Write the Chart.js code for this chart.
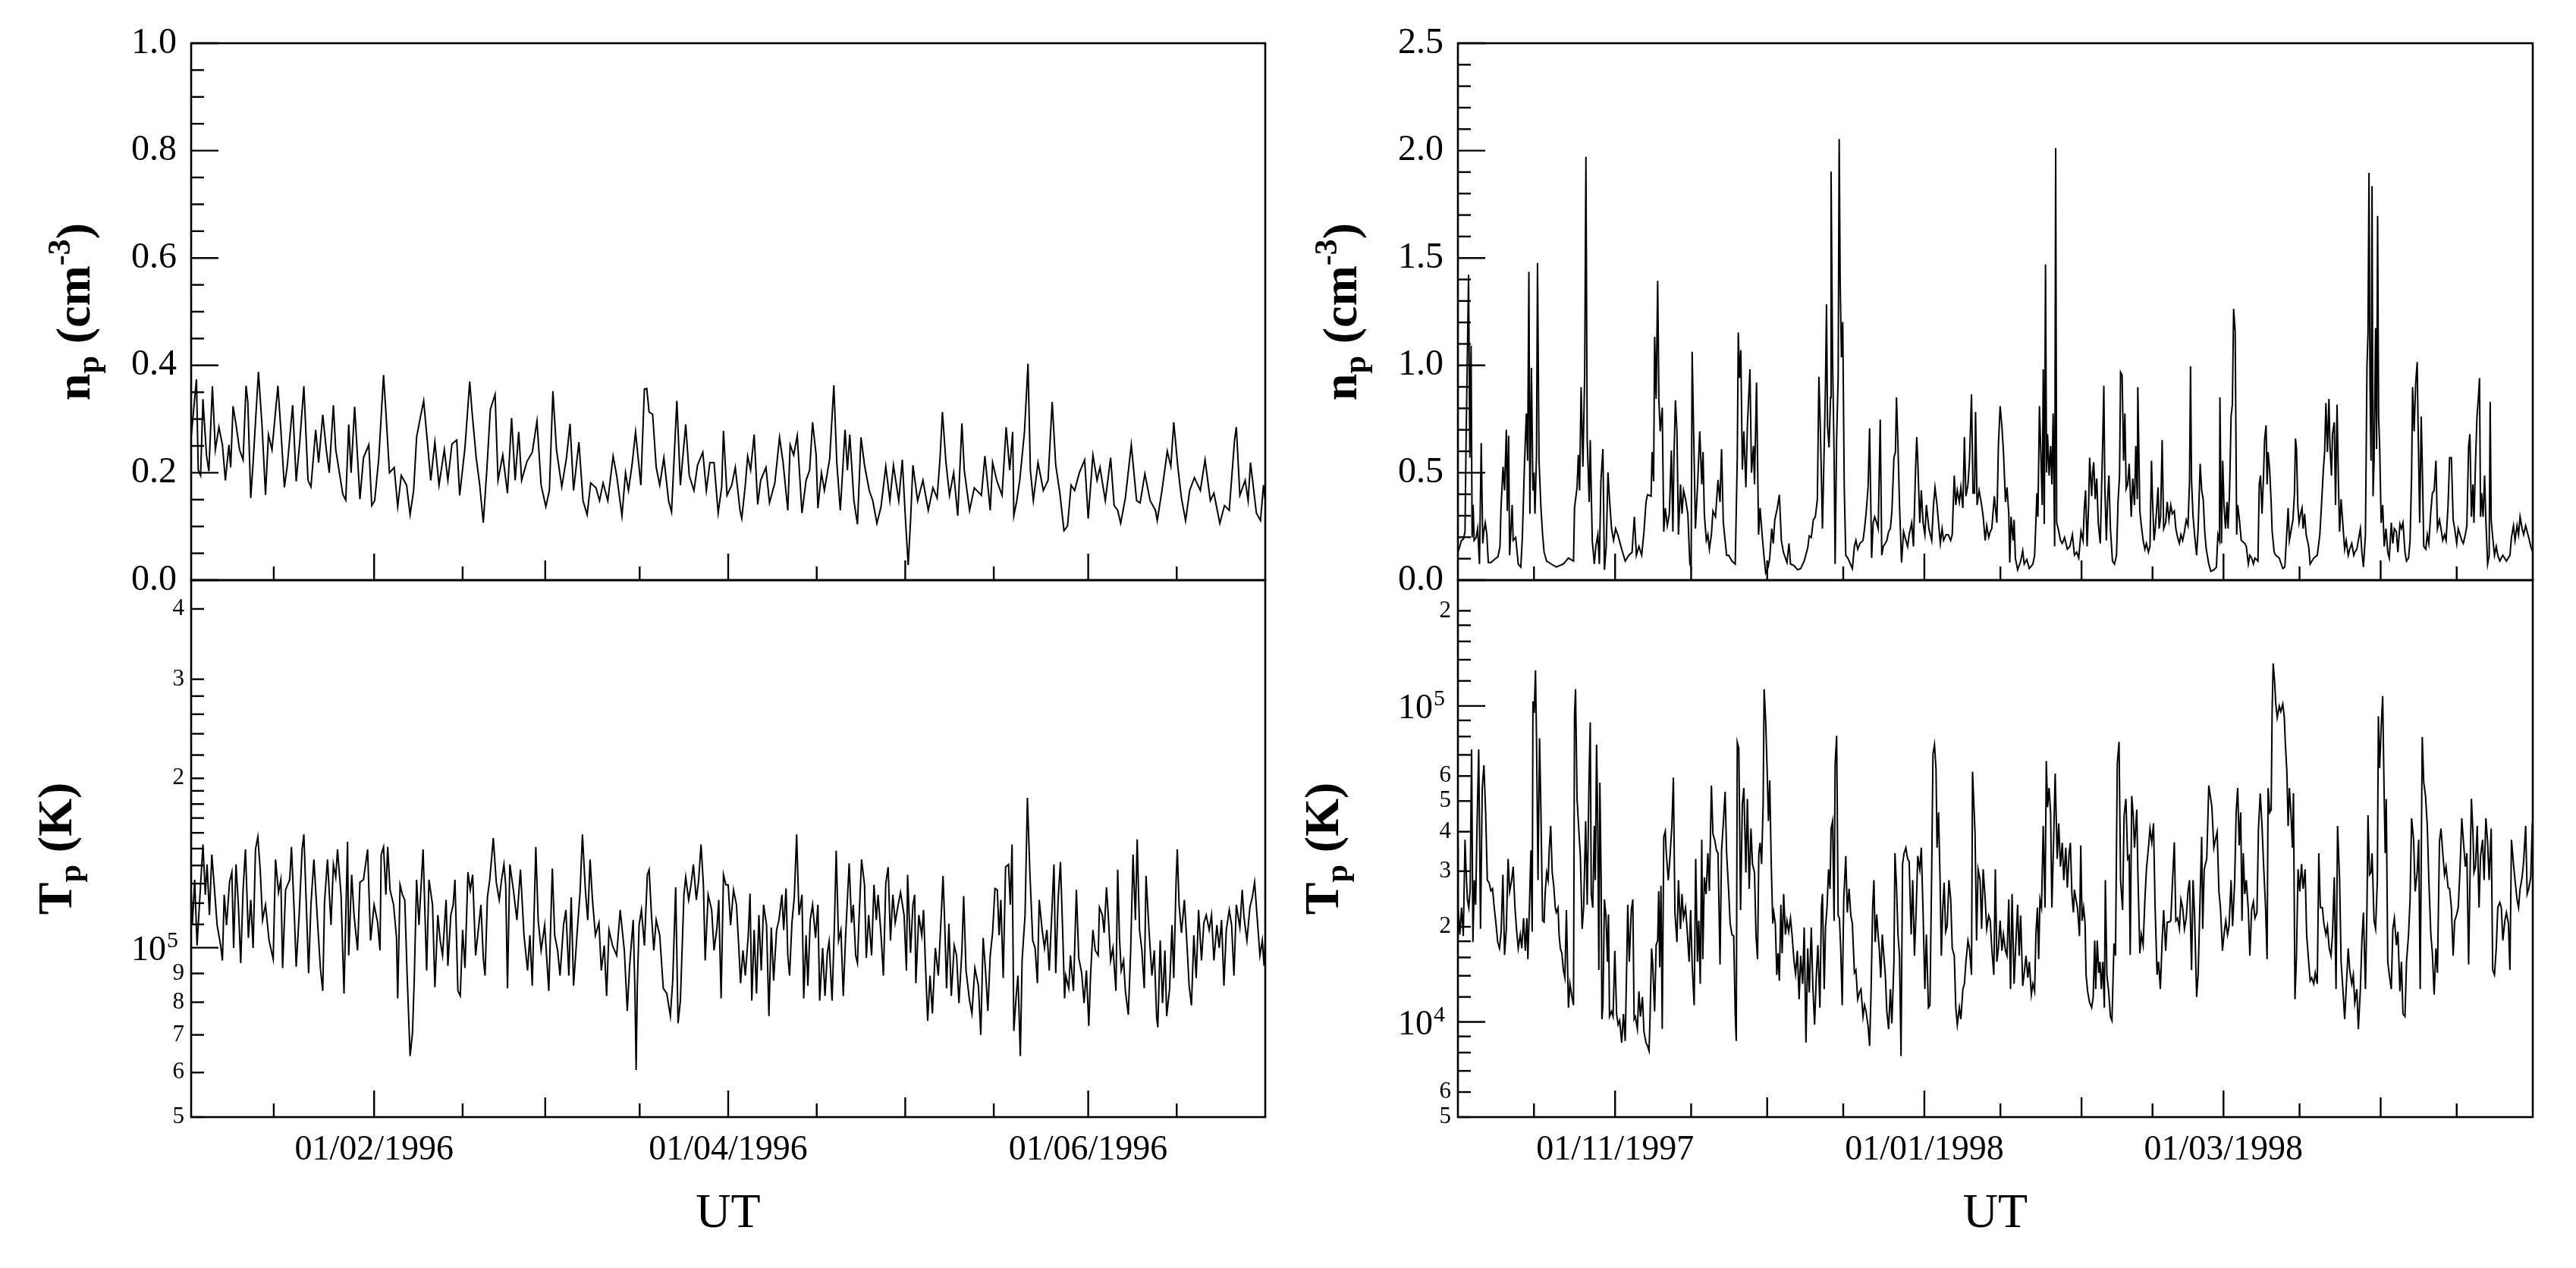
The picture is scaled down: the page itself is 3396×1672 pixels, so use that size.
<!DOCTYPE html>
<html>
<head>
<meta charset="utf-8">
<title>Solar wind n_p and T_p</title>
<script src="https://cdn.jsdelivr.net/npm/chart.js@4.4.1/dist/chart.umd.min.js"></script>
<style>
  html, body { margin: 0; padding: 0; background: #fff; }
  #wrap { position: relative; width: 3396px; height: 1672px; }
  #wrap canvas { position: absolute; left: 0; top: 0; }
</style>
</head>
<body>
<div id="wrap">
  <canvas id="npLeft" width="3396" height="1672"></canvas>
  <canvas id="tpLeft" width="3396" height="1672"></canvas>
  <canvas id="npRight" width="3396" height="1672"></canvas>
  <canvas id="tpRight" width="3396" height="1672"></canvas>
</div>
<script>
// ---- data: [days since start of window, value] ----
// window 1: 01/01/1996 .. 01/07/1996, window 2: 01/10/1997 .. 01/05/1998

const np1996 = [[0,.266],[.9,.374],[1.2,.205],[1.6,.195],[2.0,.337],[2.6,.233],[3.0,.203],[3.6,.361],[4.1,.243],[4.7,.285],[5.3,.252],[5.8,.186],[6.4,.252],[6.7,.210],[7.1,.324],[7.6,.290],[8.2,.243],[8.8,.224],[9.3,.362],[9.6,.332],[10.1,.153],[10.5,.219],[11.4,.388],[12.0,.290],[12.6,.159],[13.1,.271],[13.7,.243],[14.7,.362],[15.2,.280],[15.8,.173],[16.3,.214],[17.2,.326],[17.8,.184],[18.4,.257],[19.1,.361],[19.8,.186],[20.3,.174],[21.1,.280],[21.6,.219],[22.3,.308],[22.9,.243],[23.4,.200],[24.1,.326],[24.5,.243],[25.7,.160],[26.2,.149],[26.7,.290],[27.1,.200],[27.7,.323],[28.6,.151],[29.2,.228],[30.1,.252],[30.6,.139],[31.1,.148],[31.8,.228],[32.6,.382],[33.0,.313],[33.6,.200],[34.4,.210],[35.0,.137],[35.6,.195],[36.5,.177],[37.1,.122],[37.7,.167],[38.2,.266],[38.8,.301],[39.4,.334],[40.0,.261],[40.6,.186],[41.3,.257],[42.0,.177],[42.9,.243],[43.5,.186],[44.2,.254],[45.0,.261],[45.5,.158],[46.4,.247],[47.2,.370],[47.6,.313],[48.3,.228],[48.9,.177],[49.5,.107],[50.1,.205],[50.7,.318],[51.5,.346],[52.0,.186],[52.8,.233],[53.6,.162],[54.3,.302],[54.9,.186],[55.5,.276],[56.0,.186],[56.9,.221],[57.8,.238],[58.6,.296],[59.3,.177],[60.1,.137],[60.7,.167],[61.3,.352],[61.9,.243],[62.8,.174],[63.6,.228],[64.2,.291],[64.8,.167],[65.7,.257],[66.4,.148],[67.1,.122],[67.7,.181],[68.6,.172],[69.2,.148],[69.8,.181],[70.6,.148],[71.5,.231],[72.1,.195],[73.0,.120],[73.6,.200],[74.1,.167],[74.7,.214],[75.3,.276],[76.2,.177],[76.8,.356],[77.2,.357],[77.6,.313],[78.2,.309],[78.8,.210],[79.4,.177],[80.1,.228],[80.9,.148],[81.4,.127],[82.3,.334],[82.9,.177],[83.8,.290],[84.4,.195],[85.2,.167],[85.8,.214],[86.7,.238],[87.3,.167],[87.9,.219],[88.6,.219],[89.3,.125],[89.9,.174],[90.2,.278],[90.8,.158],
  [91.6,.177],[92.2,.210],[93.0,.130],[93.3,.115],[93.9,.177],[94.3,.231],[94.8,.205],[95.4,.271],[96.0,.141],[96.5,.186],[97.4,.210],[98.0,.144],[98.9,.181],[99.7,.266],[100.3,.219],[101.1,.130],[101.5,.252],[102.1,.233],[102.7,.269],[103.5,.125],[104.2,.186],[104.8,.205],[105.3,.294],[105.9,.233],[106.2,.134],[106.8,.200],[107.3,.167],[108.2,.226],[108.9,.363],[109.4,.219],[110.0,.130],[110.8,.280],[111.2,.205],[111.6,.271],[112.3,.148],[112.9,.104],[113.5,.266],[114.1,.214],[114.9,.167],[115.5,.148],[116.2,.106],[116.9,.137],[117.7,.212],[118.4,.148],[119.0,.214],[119.9,.148],[120.5,.224],[121.1,.101],[121.5,.028],[121.9,.111],[122.3,.214],[123.1,.148],[124.0,.186],[124.9,.130],[125.7,.172],[126.4,.153],[126.9,.228],[127.3,.313],[127.9,.219],[128.5,.158],[129.2,.200],[129.9,.120],[130.6,.292],[131.0,.205],[131.9,.130],[132.7,.172],[133.9,.158],[134.5,.231],[135.4,.130],[135.8,.219],[136.5,.186],[137.4,.158],[138.1,.285],[138.7,.205],[139.2,.276],[139.4,.120],[139.9,.148],[140.4,.186],[141.2,.276],[141.8,.403],[142.2,.205],[142.7,.148],[143.5,.219],[144.4,.167],[145.2,.186],[145.9,.332],[146.5,.214],[147.2,.162],[147.9,.092],[148.5,.101],[149.1,.177],[149.7,.167],[150.5,.200],[151.4,.224],[152.0,.115],[152.8,.233],[153.5,.186],[154.0,.210],[154.9,.148],[155.8,.228],[156.4,.139],[157.0,.130],[157.5,.106],[158.3,.153],[159.3,.252],[160.2,.148],[160.8,.144],[161.6,.198],[162.5,.148],[163.4,.130],[163.7,.111],[164.5,.167],[165.4,.240],[166.0,.212],[166.5,.294],[167.2,.210],[167.8,.153],[168.5,.111],[169.2,.167],[170.0,.191],[171.0,.167],[171.8,.224],[172.7,.148],[173.3,.162],[174.3,.106],[175.1,.139],[175.9,.130],[176.8,.261],[177.1,.285],[177.7,.158],[178.6,.186],[179.1,.148],[179.5,.219],[180.5,.125],[181.2,.111],[181.7,.177],[182,.148]];

const tp1996 = [[0,124.2e3],[.2,109.7e3],[.6,132.1e3],[1.0,100.9e3],[1.5,124.2e3],[2.0,152.6e3],[2.4,124.2e3],[2.7,140.6e3],[3.1,114.3e3],[3.5,146.4e3],[3.9,129.3e3],[4.4,109.7e3],[5.0,100.9e3],[5.3,94.9e3],[5.6,124.2e3],[6.0,109.7e3],[6.5,130.7e3],[6.9,136.2e3],[7.2,99.9e3],[7.6,140.6e3],[8.0,119.2e3],[8.4,93.9e3],[8.8,126.7e3],[9.2,149.5e3],[9.7,104.1e3],[10.1,121.6e3],[10.5,99.9e3],[10.9,149.5e3],[11.3,157.4e3],[11.7,137.6e3],[12.1,112.0e3],[12.6,119.2e3],[13.2,103.0e3],[13.9,95.4e3],[14.3,143.5e3],[14.8,125.4e3],[15.2,132.1e3],[15.5,92.0e3],[16.0,126.7e3],[16.7,132.1e3],[17.0,151.0e3],[17.5,113.2e3],[17.8,92.5e3],[18.3,114.3e3],[18.8,149.5e3],[19.1,159.0e3],[19.6,112.0e3],[19.9,90.1e3],[20.3,119.2e3],[20.8,143.5e3],[21.5,107.5e3],[21.9,92.0e3],[22.3,83.8e3],[22.6,120.4e3],[23.1,143.5e3],[23.7,109.7e3],[24.1,140.6e3],[24.5,133.5e3],[24.8,149.5e3],[25.4,124.2e3],[25.9,82.9e3],[26.5,154.2e3],[26.7,96.9e3],[27.2,134.8e3],[27.6,114.3e3],[28.2,98.9e3],[28.6,130.7e3],[29.2,132.1e3],[29.9,149.5e3],[30.4,103.0e3],[31.0,119.2e3],[31.6,110.8e3],[32.0,98.9e3],[32.2,146.4e3],[32.6,151.0e3],[33.0,124.2e3],[33.3,151.0e3],[33.7,126.7e3],[34.3,119.2e3],[34.8,104.1e3],[35.0,81.3e3],[35.4,129.3e3],[35.8,124.2e3],[36.2,121.6e3],[36.6,89.2e3],[37.1,64.2e3],[37.5,70.4e3],[37.8,87.4e3],[38.2,132.1e3],[38.6,109.7e3],[39.3,149.5e3],[39.9,91.1e3],[40.3,132.1e3],[40.9,119.2e3],[41.3,85.1e3],[41.8,114.3e3],[42.2,103.0e3],[42.6,96.9e3],[43.2,121.6e3],[43.5,92.9e3],[44.0,114.3e3],[44.4,119.2e3],[44.7,132.1e3],[45.2,83.8e3],[45.6,82.1e3],[46.0,107.5e3],[46.4,92.0e3],[46.9,136.2e3],[47.3,126.7e3],[47.7,134.8e3],[48.2,96.9e3],[48.7,108.6e3],[49.1,119.2e3],[49.5,95.9e3],[49.8,89.2e3],[50.2,122.9e3],[50.6,132.1e3],[51.2,156.6e3],[51.7,130.7e3],[52.2,121.6e3],[52.6,132.1e3],[53.0,140.6e3],[53.3,129.3e3],[53.6,84.7e3],[54.0,140.6e3],[54.6,126.7e3],[55.2,112.0e3],[55.8,137.6e3],[56.4,105.2e3],[57.0,91.1e3],[57.4,105.2e3],[57.8,85.6e3],[58.4,151.0e3],[58.8,112.0e3],[59.3,98.9e3],[59.9,109.7e3],[60.6,83.8e3],[61.2,138.3e3],[61.6,105.2e3],[62.1,98.9e3],[62.5,89.2e3],[63.1,109.7e3],[63.5,116.7e3],[64.0,89.2e3],[64.4,122.9e3],[64.8,85.6e3],[65.4,106.3e3],[65.9,125.4e3],[66.3,159.0e3],[66.8,126.7e3],[67.2,112.0e3],[67.6,143.5e3],[68.0,121.6e3],[68.5,105.2e3],[69.1,110.8e3],[69.5,91.1e3],[70.0,100.9e3],[70.4,82.1e3],[70.8,107.5e3],[71.4,100.9e3],[72.1,96.9e3],[72.7,116.7e3],[73.4,98.9e3],[73.9,77.2e3],[74.3,92.9e3],[74.9,112.0e3],[75.2,83.8e3],[75.4,60.6e3],[75.6,85.6e3],[75.9,109.7e3],[76.3,116.7e3],[76.8,100.9e3],[77.3,134.8e3],[77.6,137.6e3],[78.0,114.3e3],[78.4,98.9e3],[78.8,112.0e3],[79.4,105.2e3],[80.0,84.7e3],[80.6,82.9e3],[81.2,75.6e3],[81.6,87.4e3],[82.1,128.0e3],[82.5,73.4e3],[82.9,80.5e3],[83.5,124.2e3],[83.8,133.5e3],[84.3,121.6e3],[84.7,129.3e3],[85.1,140.6e3],[85.6,121.6e3],[86.0,132.1e3],[86.4,152.6e3],[86.8,129.3e3],[87.1,94.9e3],[87.6,124.2e3],[88.2,116.7e3],[88.6,98.9e3],[89.1,108.6e3],[89.4,121.6e3],[89.8,81.3e3],[90.2,134.8e3],[90.6,129.3e3],
  [91.0,129.3e3],[91.4,109.7e3],[91.9,126.7e3],[92.4,119.2e3],[92.8,99.9e3],[93.1,86.5e3],[93.5,98.9e3],[93.9,89.2e3],[94.4,105.2e3],[94.7,124.8e3],[95.0,80.5e3],[95.4,107.5e3],[95.8,82.9e3],[96.2,114.3e3],[96.6,91.1e3],[97.0,119.2e3],[97.5,109.7e3],[97.9,75.6e3],[98.3,108.6e3],[98.7,87.4e3],[99.2,107.5e3],[99.6,112.0e3],[100.1,124.2e3],[100.4,107.5e3],[100.8,127.4e3],[101.1,96.9e3],[101.4,89.2e3],[101.8,110.8e3],[102.2,122.9e3],[102.6,159.0e3],[103.0,114.3e3],[103.5,124.2e3],[103.8,81.3e3],[104.2,105.2e3],[104.5,85.6e3],[104.9,112.0e3],[105.3,119.2e3],[105.8,104.1e3],[106.2,119.2e3],[106.5,80.5e3],[107.0,99.9e3],[107.4,82.1e3],[107.8,97.9e3],[108.1,102.6e3],[108.6,80.5e3],[109.0,109.7e3],[109.3,148.7e3],[109.7,103.0e3],[110.1,107.5e3],[110.5,82.1e3],[110.9,105.2e3],[111.5,141.3e3],[111.9,110.8e3],[112.2,119.2e3],[112.6,96.9e3],[112.9,93.9e3],[113.2,114.3e3],[113.6,143.5e3],[114.1,129.3e3],[114.4,95.9e3],[114.8,114.3e3],[115.3,96.9e3],[115.7,129.3e3],[116.1,112.0e3],[116.4,124.2e3],[116.9,105.2e3],[117.3,89.2e3],[117.7,130.0e3],[118.1,139.1e3],[118.5,103.0e3],[118.9,124.2e3],[119.3,110.8e3],[119.8,119.2e3],[120.2,125.4e3],[120.8,114.3e3],[121.2,91.1e3],[121.4,134.8e3],[121.9,97.9e3],[122.3,119.2e3],[122.6,124.2e3],[122.8,86.5e3],[123.3,114.3e3],[123.8,105.2e3],[124.1,116.7e3],[124.4,94.9e3],[124.8,74.1e3],[125.2,89.2e3],[125.6,76.4e3],[126.1,99.9e3],[126.6,89.2e3],[127.1,114.3e3],[127.4,134.1e3],[127.7,109.7e3],[128.0,84.7e3],[128.4,110.3e3],[128.8,82.1e3],[129.3,100.9e3],[129.7,96.9e3],[130.1,79.7e3],[130.6,98.9e3],[130.9,123.5e3],[131.3,91.1e3],[131.9,80.5e3],[132.3,76.4e3],[132.8,92.0e3],[133.4,85.6e3],[133.8,70.0e3],[134.2,104.1e3],[134.6,91.1e3],[135.0,77.2e3],[135.4,96.9e3],[135.8,106.3e3],[136.2,127.4e3],[136.6,126.7e3],[136.9,105.2e3],[137.2,121.6e3],[137.6,88.3e3],[138.0,139.1e3],[138.5,140.6e3],[138.8,119.2e3],[139.1,152.6e3],[139.4,71.1e3],[139.8,82.1e3],[140.1,89.2e3],[140.5,64.2e3],[140.8,94.9e3],[141.3,114.3e3],[141.7,184.7e3],[142.1,137.6e3],[142.6,103.0e3],[143.0,99.9e3],[143.4,86.5e3],[143.7,121.6e3],[144.2,107.5e3],[144.6,99.9e3],[145.0,107.5e3],[145.4,91.1e3],[145.8,113.2e3],[146.2,140.6e3],[146.5,90.1e3],[146.9,121.6e3],[147.3,142.0e3],[147.7,105.2e3],[148.0,81.3e3],[148.2,89.2e3],[148.7,84.7e3],[149.0,96.9e3],[149.5,83.8e3],[150.0,126.7e3],[150.4,95.9e3],[150.9,90.1e3],[151.3,79.7e3],[151.7,91.1e3],[152.1,72.6e3],[152.4,89.2e3],[152.8,107.5e3],[153.2,98.9e3],[153.7,96.9e3],[153.9,118.0e3],[154.4,114.3e3],[154.7,106.3e3],[155.1,128.0e3],[155.4,114.3e3],[155.8,94.9e3],[156.2,99.9e3],[156.7,83.8e3],[157.0,137.6e3],[157.3,104.1e3],[157.6,91.1e3],[158.0,94.9e3],[158.3,83.8e3],[158.8,76.0e3],[159.2,98.9e3],[159.6,146.4e3],[160.0,112.0e3],[160.3,155.8e3],[160.7,107.5e3],[161.1,98.9e3],[161.5,84.7e3],[161.8,134.1e3],[162.3,107.5e3],[162.8,89.2e3],[163.2,98.9e3],[163.6,74.9e3],[163.8,72.2e3],[164.2,103.0e3],[164.6,79.7e3],[165.0,98.9e3],[165.3,75.6e3],[165.8,84.7e3],[166.2,109.7e3],[166.5,88.3e3],[166.9,132.1e3],[167.1,149.5e3],[167.4,119.2e3],[167.8,106.3e3],[168.3,121.6e3],[168.7,103.0e3],[169.1,85.6e3],[169.5,79.0e3],[169.9,105.2e3],[170.3,88.3e3],[170.7,116.7e3],[171.2,94.9e3],[171.6,110.8e3],[172.0,114.3e3],[172.5,107.5e3],[172.9,114.3e3],[173.3,94.9e3],[173.8,109.7e3],[174.2,99.9e3],[174.6,112.0e3],[175.0,85.6e3],[175.4,107.5e3],[175.9,116.7e3],[176.3,109.7e3],[176.7,89.2e3],[177.1,119.2e3],[177.7,108.6e3],[178.1,126.7e3],[178.4,113.2e3],[178.9,103.0e3],[179.4,118.0e3],[179.8,122.9e3],[180.2,130.7e3],[180.6,114.3e3],[181.1,96.9e3],[181.5,103.0e3],[181.8,92.9e3],[182,103.0e3]];

const np9798 = [[0,.157],[.2,.144],[.7,.185],[1.1,.192],[1.4,.226],[1.6,.625],[1.9,1.106],[2.1,1.422],[2.35,.570],[2.6,1.092],[2.8,.199],[3.0,.350],[3.2,.185],[3.6,.199],[3.9,.240],[4.25,.075],[4.6,.638],[4.9,.171],[5.1,.226],[5.4,.267],[5.7,.212],[6.0,.082],[6.5,.082],[7.2,.096],[7.9,.109],[8.3,.157],[8.5,.336],[8.9,.528],[9.2,.418],[9.55,.700],[9.75,.322],[10.0,.673],[10.2,.116],[10.7,.350],[10.9,.185],[11.4,.199],[11.9,.075],[12.4,.061],[12.7,.192],[13.15,.556],[13.5,.776],[13.75,.556],[14.0,1.435],[14.2,.309],[14.5,.989],[14.8,.418],[15.0,.501],[15.2,.309],[15.5,.583],[15.7,1.477],[16.0,.556],[16.35,.350],[16.7,.212],[17.0,.130],[17.5,.089],[18.4,.075],[19.4,.061],[20.8,.075],[21.8,.103],[22.8,.089],[23.0,.336],[23.5,.432],[23.75,.583],[24.0,.418],[24.3,.899],[24.65,.528],[25.0,.954],[25.25,1.971],[25.5,.652],[25.9,.364],[26.1,.652],[26.5,.185],[26.9,.075],[27.2,.157],[27.6,.212],[27.9,.075],[28.2,.460],[28.6,.611],[28.9,.048],[29.25,.157],[29.6,.501],[29.9,.377],[30.3,.240],[30.7,.185],[31.1,.240],[31.6,.206],[32.3,.144],[33.0,.089],[33.7,.116],[34.35,.130],[34.8,.295],[35.2,.116],[35.7,.157],[36.25,.116],[36.7,.226],[37.1,.364],[37.4,.398],[38.1,.391],[38.3,.597],[38.6,.460],[38.8,1.133],[39.1,.844],[39.4,1.394],[39.65,.831],[39.9,.693],[40.3,.803],[40.6,.226],[40.9,.336],[41.3,.254],[41.7,.309],[42.1,.604],[42.4,.226],[42.6,.556],[42.9,.838],[43.2,.693],[43.5,.212],[43.9,.446],[44.2,.309],[44.5,.418],[44.9,.377],[45.35,.309],[45.75,.075],[46.0,.061],[46.2,1.064],[46.6,.556],[46.85,.240],[47.3,.460],[47.7,.693],[48.1,.446],[48.35,.597],[48.6,.309],[49.0,.185],[49.3,.212],[49.6,.144],[50.0,.212],[50.3,.322],[50.8,.295],[51.3,.467],[51.7,.364],[52.0,.611],[52.35,.267],[52.7,.185],[53.0,.116],[53.4,.116],[54.05,.089],[54.7,.075],[55.1,.570],[55.3,1.154],[55.55,.941],[55.8,1.071],[56.1,.515],[56.4,.693],[56.8,.432],[57.1,.721],[57.6,.982],[57.9,.501],[58.3,.625],[58.5,.446],[58.9,.920],[59.3,.212],[59.6,.336],[60.0,.212],[60.4,.103],[60.7,.034],[61.2,.061],[61.5,.103],[61.9,.240],[62.2,.171],[62.5,.281],[63.0,.336],[63.4,.398],[63.8,.185],[64.2,.130],[64.9,.082],[65.3,.171],[65.6,.075],[66.3,.068],[67.0,.048],[67.6,.054],[68.3,.089],[69.0,.151],[69.3,.206],[69.7,.199],[70.1,.281],[70.5,.295],[70.9,.377],[71.2,.947],[71.5,.693],[71.9,.240],[72.25,.625],[72.5,.913],[72.7,1.284],[72.9,.721],[73.2,.618],[73.5,.851],[73.6,1.902],[73.9,1.023],[74.2,.583],[74.4,.075],[74.7,.666],[75.0,.941],[75.2,2.054],[75.4,1.380],[75.65,1.037],[75.9,1.202],[76.2,.432],[76.5,.116],[76.9,.103],[77.3,.082],[77.8,.054],[78.2,.157],[78.5,.185],[78.85,.144],[79.3,.171],[79.9,.185],[80.2,.240],[80.5,.309],[80.9,.432],[81.2,.707],[81.6,.103],[81.9,.267],[82.2,.295],[82.6,.267],[82.9,.240],[83.3,.748],[83.6,.116],[83.9,.157],[84.3,.171],[84.6,.185],[84.95,.226],[85.3,.240],[85.6,.322],[86.0,.570],[86.3,.597],[86.5,.851],[86.8,.625],[87.1,.350],[87.5,.082],[87.9,.226],[88.35,.185],[88.7,.157],[89.0,.212],[89.5,.267],[89.85,.157],[90.3,.542],[90.5,.666],[90.7,.556],[91.1,.267],[91.4,.418],[91.75,.267],[92.1,.212],[92.4,.350],[92.9,.240],[93.45,.185],[93.8,.350],[94.1,.432],[94.5,.350],[94.8,.267],[95.15,.171],[95.5,.240],[95.8,.185],[96.3,.212],[96.7,.212],[97.2,.185],[97.5,.212],[97.9,.487],[98.2,.350],[98.5,.418],[98.9,.364],[99.2,.432],[99.6,.336],[99.9,.666],[100.2,.391],[100.6,.446],[100.9,.556],[101.3,.865],[101.6,.405],[101.9,.405],[102.1,.783],[102.4,.350],[102.8,.418],[103.3,.350],[103.6,.295],[104.0,.185],[104.3,.254],[104.7,.199],[105.0,.226],[105.3,.240],[105.8,.391],
  [106.3,.267],[106.6,.625],[106.95,.810],[107.3,.714],[107.6,.597],[108.0,.364],[108.3,.432],[108.65,.309],[108.85,.082],[109.1,.295],[109.5,.185],[109.7,.281],[109.95,.103],[110.4,.048],[111.0,.089],[111.4,.137],[111.7,.075],[112.2,.096],[112.7,.054],[113.4,.075],[113.75,.116],[113.95,.240],[114.2,.405],[114.4,.295],[114.7,.810],[115.0,.570],[115.25,.350],[115.45,.982],[115.65,.261],[115.9,1.470],[116.1,.501],[116.3,.680],[116.6,.487],[116.9,.625],[117.15,.446],[117.4,.776],[117.7,.157],[117.9,2.012],[118.1,.267],[118.4,.240],[118.85,.185],[119.2,.171],[119.65,.199],[120.2,.144],[120.7,.157],[121.2,.212],[121.6,.116],[122.05,.130],[122.45,.103],[122.9,.226],[123.3,.185],[123.55,.336],[123.8,.418],[124.1,.157],[124.4,.350],[124.6,.570],[125.0,.391],[125.2,.501],[125.4,.549],[125.7,.377],[126.0,.473],[126.3,.267],[126.7,.171],[127.0,.473],[127.2,.666],[127.4,.906],[127.6,.432],[127.9,.185],[128.15,.377],[128.4,.487],[128.7,.240],[129.1,.089],[129.5,.075],[129.9,.116],[130.2,.364],[130.5,.487],[130.7,.968],[131.0,.954],[131.3,.556],[131.55,.776],[131.8,.425],[132.1,.446],[132.4,.542],[132.8,.295],[133.1,.473],[133.45,.350],[133.7,.625],[134.0,.377],[134.1,.899],[134.5,.322],[134.8,.254],[135.15,.185],[135.5,.144],[135.8,.171],[136.2,.130],[136.5,.157],[136.8,.556],[137.0,.377],[137.3,.185],[137.5,.226],[137.8,.322],[138.1,.432],[138.3,.240],[138.6,.295],[138.9,.652],[139.2,.240],[139.6,.267],[139.9,.364],[140.25,.281],[140.6,.350],[140.9,.309],[141.3,.322],[141.6,.240],[141.95,.199],[142.3,.171],[142.6,.212],[142.95,.185],[143.3,.226],[143.65,.281],[144.0,.254],[144.3,.460],[144.5,.996],[144.7,.460],[145.0,.295],[145.3,.212],[145.7,.116],[146.0,.240],[146.4,.542],[146.7,.418],[147.0,.377],[147.3,.226],[147.6,.144],[148.1,.075],[148.5,.041],[149.1,.048],[149.6,.061],[149.9,.212],[150.2,.185],[150.3,.851],[150.6,.171],[150.85,.556],[151.1,.350],[151.4,.240],[151.7,.364],[151.9,.240],[152.2,.418],[152.5,.762],[152.75,.817],[153.0,1.263],[153.3,1.160],[153.6,.212],[153.8,.350],[154.2,.267],[154.5,.185],[155.2,.171],[155.5,.157],[155.9,.075],[156.2,.116],[156.55,.103],[156.9,.075],[157.2,.103],[157.8,.089],[158.05,.446],[158.3,.487],[158.6,.309],[158.9,.487],[159.1,.652],[159.4,.721],[159.6,.446],[159.8,.597],[160.1,.515],[160.4,.364],[160.6,.226],[161.0,.130],[161.3,.116],[162.0,.103],[162.7,.054],[163.1,.061],[163.5,.226],[163.75,.336],[164.0,.185],[164.4,.240],[164.7,.281],[165.0,.405],[165.2,.659],[165.4,.611],[165.65,.350],[165.9,.267],[166.2,.309],[166.5,.336],[166.7,.240],[167.0,.309],[167.3,.212],[167.8,.157],[168.1,.075],[168.8,.103],[169.5,.116],[170.0,.212],[170.3,.336],[170.7,.515],[170.95,.597],[171.2,.824],[171.5,.597],[171.8,.844],[172.0,.625],[172.3,.487],[172.5,.680],[172.85,.735],[173.1,.350],[173.4,.817],[173.7,.418],[173.9,.226],[174.2,.377],[174.6,.240],[174.9,.144],[175.2,.185],[175.6,.116],[175.9,.144],[176.3,.171],[176.7,.116],[176.9,.130],[177.3,.144],[177.6,.185],[178.0,.240],[178.3,.130],[178.6,.061],[179.0,.212],[179.3,.996],[179.5,1.147],[179.7,1.896],[179.9,.899],[180.1,.556],[180.3,1.834],[180.5,.391],[180.7,.556],[181.0,1.174],[181.2,.611],[181.4,1.696],[181.6,.762],[181.8,.625],[182.1,.267],[182.4,.350],[182.7,.157],[183.05,.240],[183.4,.130],[183.7,.103],[184.1,.267],[184.4,.171],[184.7,.240],[185.1,.226],[185.4,.130],[185.8,.261],[186.1,.240],[186.4,.267],[186.8,.130],[187.1,.089],[187.5,.103],[187.8,.185],[188.1,.487],[188.3,.899],[188.6,.693],[188.9,.913],[189.2,1.016],[189.4,.693],[189.7,.267],[190.0,.762],[190.25,.487],[190.5,.157],[190.9,.144],[191.2,.212],[191.5,.171],[191.9,.322],[192.2,.405],[192.55,.418],[192.9,.556],[193.2,.240],[193.6,.281],[193.9,.240],[194.25,.185],[194.6,.212],[194.9,.185],[195.3,.350],[195.6,.570],[195.95,.570],[196.3,.281],[196.6,.240],[197.0,.171],[197.3,.240],[197.65,.212],[198.0,.185],[198.3,.171],[198.7,.212],[199.0,.254],[199.35,.625],[199.6,.680],[199.9,.295],[200.2,.446],[200.4,.267],[200.7,.542],[201.0,.762],[201.3,.858],[201.5,.941],[201.7,.295],[201.9,.405],[202.2,.295],[202.5,.487],[202.75,.281],[203.1,.075],[203.4,.116],[203.6,.831],[203.8,.281],[204.1,.199],[204.45,.116],[204.8,.157],[205.1,.116],[205.5,.089],[205.8,.103],[206.1,.116],[206.8,.089],[207.5,.116],[207.8,.199],[208.2,.254],[208.5,.185],[208.9,.254],[209.2,.212],[209.5,.295],[209.9,.240],[210.2,.212],[210.6,.254],[210.9,.226],[211.2,.199],[211.6,.157],[212,.130]];

const tp9798 = [[0,35.6e3],[.04,23.0e3],[.38,18.9e3],[.72,23.0e3],[1.06,18.7e3],[1.4,37.7e3],[1.6,30.4e3],[1.87,24.4e3],[2.15,23.0e3],[2.42,26.4e3],[2.7,72.8e3],[2.96,17.9e3],[3.23,28.1e3],[3.5,23.5e3],[3.78,42.5e3],[4.1,72.8e3],[4.46,19.7e3],[4.8,54.9e3],[5.13,64.9e3],[5.47,46.0e3],[5.8,28.1e3],[6.15,27.6e3],[6.5,26.0e3],[6.83,26.4e3],[7.17,23.0e3],[7.5,20.5e3],[7.85,17.9e3],[8.2,17.1e3],[8.53,19.3e3],[8.87,29.2e3],[9.2,16.3e3],[9.55,19.7e3],[9.9,32.8e3],[10.2,25.9e3],[10.6,28.1e3],[10.9,31.0e3],[11.25,23.0e3],[11.6,19.3e3],[11.9,17.1e3],[12.3,18.9e3],[12.6,17.1e3],[12.95,21.3e3],[13.3,16.8e3],[13.6,21.3e3],[13.8,15.8e3],[14.1,23.0e3],[14.4,34.9e3],[14.65,19.3e3],[14.8,103.3e3],[15.05,95.0e3],[15.3,129.5e3],[15.5,79.8e3],[15.8,28.1e3],[16.1,79.0e3],[16.35,48.8e3],[16.7,20.9e3],[17.0,20.7e3],[17.2,25.4e3],[17.5,29.7e3],[17.8,28.1e3],[18.0,34.9e3],[18.3,41.7e3],[18.6,29.7e3],[18.9,27.0e3],[19.2,23.0e3],[19.4,22.2e3],[19.75,23.0e3],[19.95,18.9e3],[20.2,17.1e3],[20.5,16.5e3],[20.8,14.6e3],[21.1,13.8e3],[21.4,22.6e3],[21.8,11.1e3],[22.1,13.2e3],[22.5,12.0e3],[22.8,11.3e3],[23.0,93.5e3],[23.2,113.0e3],[23.5,50.8e3],[23.8,41.7e3],[24.15,33.5e3],[24.5,19.7e3],[24.8,23.0e3],[25.2,43.2e3],[25.5,23.5e3],[25.85,57.2e3],[26.1,88.7e3],[26.3,25.4e3],[26.6,23.0e3],[26.9,41.7e3],[27.1,28.1e3],[27.35,75.4e3],[27.55,47.0e3],[27.8,14.6e3],[28.0,57.2e3],[28.25,28.1e3],[28.4,10.2e3],[28.6,11.3e3],[28.9,24.4e3],[29.2,21.7e3],[29.5,15.5e3],[29.7,21.9e3],[29.9,10.4e3],[30.3,10.8e3],[30.6,10.4e3],[30.95,16.8e3],[31.3,10.6e3],[31.6,9.8e3],[31.9,10.1e3],[32.3,8.6e3],[32.65,10.6e3],[33.0,8.7e3],[33.3,15.5e3],[33.5,23.5e3],[33.8,15.5e3],[34.2,22.6e3],[34.5,24.4e3],[34.75,10.2e3],[35.0,10.4e3],[35.4,9.5e3],[35.7,12.5e3],[36.0,10.4e3],[36.4,12.0e3],[36.7,9.3e3],[37.1,8.6e3],[37.4,8.4e3],[37.7,8.1e3],[37.9,10.4e3],[38.2,17.1e3],[38.4,15.5e3],[38.8,10.8e3],[39.1,17.5e3],[39.4,18.1e3],[39.6,25.9e3],[39.8,14.9e3],[40.05,27.0e3],[40.3,9.5e3],[40.6,38.5e3],[40.9,40.1e3],[41.1,34.2e3],[41.5,28.1e3],[41.8,32.8e3],[42.2,41.7e3],[42.5,59.3e3],[42.8,22.2e3],[43.2,17.9e3],[43.5,28.1e3],[43.9,19.7e3],[44.2,25.4e3],[44.5,21.3e3],[44.9,23.0e3],[45.2,19.7e3],[45.6,15.5e3],[45.9,22.6e3],[46.2,15.2e3],[46.6,11.3e3],[46.9,32.8e3],[47.25,15.5e3],[47.5,20.9e3],[47.8,13.2e3],[48.1,37.7e3],[48.3,15.8e3],[48.6,28.7e3],[48.95,25.4e3],[49.3,34.2e3],[49.6,26.0e3],[50.0,56.0e3],[50.3,39.3e3],[50.65,37.7e3],[51.0,34.9e3],[51.3,34.2e3],[51.7,15.2e3],[52.0,34.9e3],[52.35,42.5e3],[52.7,53.5e3],[53.0,34.2e3],[53.4,26.0e3],[53.7,20.5e3],[54.05,18.9e3],[54.4,18.7e3],[54.7,10.6e3],[54.9,8.7e3],[55.1,76.8e3],[55.4,73.5e3],[55.75,22.6e3],[56.1,48.8e3],[56.4,55.0e3],[56.8,29.7e3],[57.1,50.8e3],[57.45,26.4e3],[57.8,40.9e3],[58.1,31.6e3],[58.5,29.7e3],[58.8,18.7e3],[59.1,15.8e3],[59.35,34.2e3],[59.6,36.9e3],[59.9,31.6e3],[60.2,48.8e3],[60.4,113.0e3],[60.7,89.7e3],[61.0,61.9e3],[61.25,43.2e3],[61.5,58.1e3],[61.8,31.6e3],[62.1,20.5e3],[62.3,22.2e3],[62.6,20.5e3],[62.9,14.1e3],[63.15,16.5e3],[63.4,13.5e3],[63.7,23.5e3],[63.95,16.5e3],[64.25,25.4e3],[64.6,18.9e3],[64.9,20.9e3],[65.25,19.3e3],[65.6,21.3e3],[65.9,18.9e3],[66.3,15.5e3],[66.6,14.2e3],[66.95,16.8e3],[67.3,11.8e3],[67.6,16.2e3],[68.0,13.2e3],[68.3,19.9e3],[68.65,8.6e3],[69.0,17.1e3],[69.3,12.4e3],[69.7,19.9e3],[70.0,13.0e3],[70.35,9.8e3],[70.7,14.1e3],[71.0,17.5e3],[71.4,11.1e3],[71.7,23.0e3],[71.9,25.4e3],[72.25,12.7e3],[72.5,19.9e3],[72.8,23.0e3],[73.1,30.4e3],[73.4,26.4e3],[73.6,40.9e3],[73.9,43.2e3],[74.2,20.9e3],[74.4,65.5e3],[74.7,80.4e3],[75.0,21.7e3],[75.25,21.3e3],[75.5,17.1e3],[75.8,11.3e3],[76.1,24.4e3],[76.5,33.5e3],[76.8,22.2e3],[77.15,26.4e3],[77.5,21.7e3],[77.8,20.5e3],[78.2,14.3e3],[78.5,14.6e3],[78.85,11.8e3],[79.2,12.4e3],[79.5,12.7e3],[79.9,10.4e3],[80.2,11.3e3],[80.5,10.8e3],[80.9,9.7e3],[81.2,8.4e3],[81.5,12.7e3],[81.8,23.0e3],[82.05,28.1e3],[82.3,17.9e3],[82.6,21.9e3],[82.85,19.1e3],[83.1,17.1e3],[83.4,13.8e3],[83.7,18.9e3],[83.9,17.1e3],[84.3,14.1e3],[84.6,10.8e3],[84.95,9.5e3],[85.3,12.7e3],[85.6,9.9e3],[86.0,15.5e3],[86.2,34.2e3],[86.5,27.0e3],[86.8,18.9e3],[87.1,16.2e3],[87.4,7.8e3],[87.7,31.6e3],[88.0,34.2e3],[88.35,35.6e3],[88.7,32.8e3],[89.0,32.2e3],[89.4,18.9e3],[89.7,28.1e3],[90.05,16.2e3],[90.4,23.0e3],[90.7,33.5e3],[91.1,30.4e3],[91.4,35.6e3],[91.75,22.2e3],[92.1,12.7e3],[92.4,18.9e3],[92.8,11.1e3],[93.1,11.3e3],[93.45,30.4e3],[93.7,70.4e3],[94.0,75.4e3],[94.3,63.1e3],[94.5,35.6e3],[94.8,46.0e3],[95.1,28.1e3],[95.35,16.2e3],[95.6,22.2e3],[95.9,27.6e3],[96.2,19.3e3],[96.5,20.1e3],[96.85,28.1e3],[97.2,24.4e3],[97.5,17.1e3],[97.9,16.2e3],[98.2,11.1e3],[98.5,9.8e3],[98.9,11.1e3],[99.2,10.2e3],[99.6,12.7e3],[99.9,13.2e3],[100.2,15.5e3],[100.6,18.1e3],[100.9,17.1e3],[101.3,14.1e3],[101.5,61.9e3],[101.7,51.9e3],[102.0,39.3e3],[102.3,18.1e3],[102.6,30.4e3],[103.0,28.1e3],[103.3,19.7e3],[103.6,30.4e3],[104.0,24.4e3],[104.3,19.7e3],[104.7,21.7e3],[105.0,20.9e3],[105.3,17.1e3],[105.7,14.1e3],[106.0,30.4e3],
  [106.3,15.5e3],[106.6,17.1e3],[106.95,20.9e3],[107.3,16.8e3],[107.6,18.9e3],[108.0,16.8e3],[108.3,16.2e3],[108.65,24.4e3],[109.0,12.7e3],[109.3,25.4e3],[109.7,13.2e3],[110.0,17.1e3],[110.4,23.5e3],[110.7,16.2e3],[111.0,21.7e3],[111.4,13.0e3],[111.7,14.3e3],[112.05,16.2e3],[112.4,13.8e3],[112.7,15.5e3],[113.1,12.2e3],[113.4,13.2e3],[113.75,12.5e3],[114.0,18.9e3],[114.3,23.0e3],[114.55,15.8e3],[114.8,24.4e3],[115.1,23.0e3],[115.45,41.7e3],[115.8,23.0e3],[116.05,66.9e3],[116.3,47.8e3],[116.6,55.0e3],[116.9,46.0e3],[117.15,23.0e3],[117.5,37.7e3],[117.8,61.1e3],[118.2,32.8e3],[118.5,42.5e3],[118.85,31.0e3],[119.2,36.9e3],[119.5,28.1e3],[119.9,35.6e3],[120.2,26.6e3],[120.55,34.2e3],[120.8,36.9e3],[121.1,25.4e3],[121.4,22.2e3],[121.6,26.2e3],[121.9,24.4e3],[122.2,23.0e3],[122.6,18.7e3],[122.85,36.2e3],[123.1,20.9e3],[123.4,23.0e3],[123.7,20.5e3],[123.9,14.1e3],[124.2,12.5e3],[124.6,11.5e3],[125.0,11.1e3],[125.3,12.0e3],[125.6,18.1e3],[125.8,12.7e3],[126.1,18.1e3],[126.4,14.3e3],[126.65,15.5e3],[126.9,12.7e3],[127.2,15.5e3],[127.5,11.1e3],[127.7,28.1e3],[128.0,14.1e3],[128.35,12.5e3],[128.7,10.4e3],[129.0,10.1e3],[129.4,17.7e3],[129.7,16.2e3],[130.05,65.5e3],[130.4,76.9e3],[130.7,28.1e3],[131.1,22.6e3],[131.4,45.1e3],[131.75,50.8e3],[132.1,32.8e3],[132.4,33.5e3],[132.6,16.3e3],[132.9,51.9e3],[133.2,45.1e3],[133.45,35.6e3],[133.9,47.0e3],[134.1,30.4e3],[134.5,16.5e3],[134.8,18.9e3],[135.15,17.5e3],[135.5,24.4e3],[135.8,30.4e3],[136.2,35.6e3],[136.5,40.9e3],[136.85,37.0e3],[137.2,42.5e3],[137.5,23.5e3],[137.9,14.1e3],[138.2,15.5e3],[138.55,12.7e3],[138.9,18.1e3],[139.2,22.6e3],[139.6,16.8e3],[139.9,20.7e3],[140.25,20.7e3],[140.6,20.9e3],[140.9,26.9e3],[141.3,37.0e3],[141.6,20.9e3],[141.95,21.3e3],[142.3,19.7e3],[142.6,24.4e3],[142.95,23.0e3],[143.3,19.7e3],[143.65,21.3e3],[144.0,25.9e3],[144.3,28.1e3],[144.7,14.6e3],[145.0,28.1e3],[145.3,21.7e3],[145.7,12.0e3],[146.0,14.1e3],[146.4,25.4e3],[146.7,38.5e3],[146.9,19.7e3],[147.2,30.4e3],[147.45,31.6e3],[147.7,32.8e3],[148.1,56.0e3],[148.4,51.9e3],[148.7,48.1e3],[149.1,35.6e3],[149.4,37.7e3],[149.75,39.9e3],[150.1,25.9e3],[150.4,23.0e3],[150.8,16.8e3],[151.1,18.9e3],[151.45,20.9e3],[151.8,18.9e3],[152.1,20.1e3],[152.5,28.1e3],[152.8,20.1e3],[153.2,27.6e3],[153.5,46.0e3],[153.8,55.0e3],[154.1,36.2e3],[154.4,46.0e3],[154.65,20.9e3],[154.9,34.2e3],[155.2,25.4e3],[155.5,28.1e3],[155.9,22.6e3],[156.2,16.2e3],[156.55,22.6e3],[156.9,24.0e3],[157.2,21.3e3],[157.6,22.2e3],[157.9,40.9e3],[158.25,52.8e3],[158.6,41.7e3],[158.9,31.6e3],[159.3,23.0e3],[159.6,15.8e3],[159.8,54.9e3],[160.1,46.0e3],[160.4,46.9e3],[160.6,98.0e3],[160.8,136.3e3],[161.1,118.5e3],[161.3,102.0e3],[161.6,91.9e3],[162.0,99.9e3],[162.3,96.0e3],[162.7,101.4e3],[163.0,91.9e3],[163.2,76.0e3],[163.5,61.9e3],[163.75,41.7e3],[164.0,55.0e3],[164.3,46.0e3],[164.6,35.6e3],[164.8,52.9e3],[165.1,11.8e3],[165.4,16.2e3],[165.7,30.4e3],[166.05,25.9e3],[166.4,31.6e3],[166.7,26.4e3],[167.1,30.4e3],[167.4,18.9e3],[167.8,15.5e3],[168.1,13.5e3],[168.4,13.8e3],[168.8,13.2e3],[169.1,14.3e3],[169.5,13.2e3],[169.8,34.2e3],[170.1,23.0e3],[170.5,23.0e3],[170.8,20.5e3],[171.2,18.9e3],[171.5,20.1e3],[171.85,17.1e3],[172.2,16.2e3],[172.5,18.9e3],[172.85,28.7e3],[173.2,12.7e3],[173.5,41.7e3],[173.9,28.1e3],[174.2,15.5e3],[174.55,12.7e3],[174.9,10.2e3],[175.2,12.7e3],[175.6,17.1e3],[175.9,14.6e3],[176.3,13.2e3],[176.6,14.1e3],[176.9,11.5e3],[177.3,12.7e3],[177.6,9.5e3],[178.0,12.7e3],[178.3,18.1e3],[178.6,22.2e3],[179.0,12.7e3],[179.3,23.0e3],[179.5,45.1e3],[179.8,29.2e3],[180.1,29.7e3],[180.3,34.2e3],[180.7,20.9e3],[181.0,19.7e3],[181.35,28.1e3],[181.55,92.7e3],[181.8,63.6e3],[182.1,85.2e3],[182.4,107.4e3],[182.7,50.8e3],[182.9,34.2e3],[183.1,50.8e3],[183.4,15.5e3],[183.7,14.1e3],[184.1,12.7e3],[184.4,19.7e3],[184.7,21.3e3],[185.1,17.5e3],[185.4,19.3e3],[185.8,12.5e3],[186.1,15.5e3],[186.4,10.6e3],[186.8,10.4e3],[187.1,15.5e3],[187.5,18.9e3],[187.8,24.4e3],[188.1,44.1e3],[188.5,37.7e3],[188.8,25.9e3],[189.2,29.7e3],[189.5,37.7e3],[189.8,12.7e3],[190.2,79.8e3],[190.5,57.2e3],[190.85,51.9e3],[191.2,41.7e3],[191.5,28.1e3],[191.9,18.9e3],[192.2,16.5e3],[192.55,12.2e3],[192.9,17.1e3],[193.2,14.3e3],[193.6,37.2e3],[193.9,40.9e3],[194.25,34.2e3],[194.6,29.2e3],[194.9,31.0e3],[195.3,26.6e3],[195.6,26.4e3],[195.95,23.0e3],[196.3,16.2e3],[196.6,20.9e3],[197.0,21.9e3],[197.3,23.0e3],[197.65,30.4e3],[198.0,44.1e3],[198.3,37.7e3],[198.7,31.0e3],[199.0,34.2e3],[199.35,15.2e3],[199.7,34.2e3],[199.9,50.8e3],[200.2,39.9e3],[200.4,29.7e3],[200.7,31.0e3],[201.05,41.7e3],[201.4,23.0e3],[201.7,33.5e3],[202.1,37.7e3],[202.4,28.1e3],[202.75,44.1e3],[203.1,37.0e3],[203.4,28.1e3],[203.8,40.9e3],[204.1,14.6e3],[204.45,14.1e3],[204.8,17.1e3],[205.1,23.0e3],[205.5,23.9e3],[205.8,23.0e3],[206.1,18.1e3],[206.5,20.9e3],[206.8,22.2e3],[207.2,20.5e3],[207.5,14.6e3],[207.8,37.7e3],[208.2,31.6e3],[208.5,28.1e3],[208.9,24.4e3],[209.2,23.0e3],[209.5,26.4e3],[209.9,28.7e3],[210.2,32.2e3],[210.6,41.7e3],[210.9,25.4e3],[211.2,26.4e3],[211.6,28.7e3],[211.9,41.7e3],[212,43.2e3]];

// ---- axis ticks and labels ----
const days1996 = 182;            // 01/01/1996 .. 01/07/1996
const days9798 = 212;            // 01/10/1997 .. 01/05/1998
const dateLabelDays1996 = [31, 91, 152];
const dateLabels1996 = ['01/02/1996', '01/04/1996', '01/06/1996'];
const monthDays1996 = [60, 121];
const midMonthDays1996 = [14, 46, 76, 106, 136, 167];
const dateLabelDays9798 = [31, 92, 151];
const dateLabels9798 = ['01/11/1997', '01/01/1998', '01/03/1998'];
const monthDays9798 = [61, 123, 182];
const midMonthDays9798 = [15, 46, 76, 107, 137, 166, 197];

const npLeftTicks = [0, 0.2, 0.4, 0.6, 0.8, 1.0];
const npLeftLabels = ['0.0', '0.2', '0.4', '0.6', '0.8', '1.0'];
const npRightTicks = [0, 0.5, 1.0, 1.5, 2.0, 2.5];
const npRightLabels = ['0.0', '0.5', '1.0', '1.5', '2.0', '2.5'];
const tpLeftTicks = [5e4, 6e4, 7e4, 8e4, 9e4, 1e5, 2e5, 3e5, 4e5];
const tpLeftLabels = ['5', '6', '7', '8', '9', '10^5', '2', '3', '4'];
const tpLeftMinor = [1.1e5, 1.2e5, 1.3e5, 1.4e5, 1.5e5, 1.6e5, 1.7e5, 1.8e5, 1.9e5, 2.2e5, 2.4e5, 2.6e5, 2.8e5];
const tpRightTicks = [5e3, 6e3, 1e4, 2e4, 3e4, 4e4, 5e4, 6e4, 1e5, 2e5];
const tpRightLabels = ['5', '6', '10^4', '2', '3', '4', '5', '6', '10^5', '2'];
const tpRightMinor = [7e3, 8e3, 9e3, 1.2e4, 1.4e4, 1.6e4, 1.8e4, 7e4, 8e4, 9e4, 1.2e5, 1.4e5, 1.6e5, 1.8e5];

const PAGE_W = 3396, PAGE_H = 1672;
const SERIF = '"Liberation Serif", "Times New Roman", Times, serif';

function linearMinor(majors, step) {
  const out = [];
  const lo = majors[0], hi = majors[majors.length - 1];
  for (let v = lo; v <= hi + 1e-9; v += step) {
    const r = Math.round(v * 1000) / 1000;
    if (!majors.some(m => Math.abs(m - r) < 1e-6)) out.push(r);
  }
  return out;
}

function dateTicks(labelDays, monthDays, midDays) {
  return [
    ...labelDays.map(d => ({ d, len: 35 })),
    ...monthDays.map(d => ({ d, len: 26 })),
    ...midDays.map(d => ({ d, len: 18 }))
  ];
}

const panels = [
  { id: 'npLeft', series: np1996, xMax: days1996, yType: 'linear', yMin: 0, yMax: 1.0,
    area: [252, 57, 1668, 765], ticks: npLeftTicks, labels: npLeftLabels,
    minor: linearMinor(npLeftTicks, 0.05), kind: 'np',
    xTicks: dateTicks(dateLabelDays1996, monthDays1996, midMonthDays1996) },
  { id: 'tpLeft', series: tp1996, xMax: days1996, yType: 'logarithmic', yMin: 5e4, yMax: 4.5e5,
    area: [252, 765, 1668, 1473], ticks: tpLeftTicks, labels: tpLeftLabels,
    minor: tpLeftMinor, kind: 'tp',
    xTicks: dateTicks(dateLabelDays1996, monthDays1996, midMonthDays1996),
    dateDays: dateLabelDays1996, dateText: dateLabels1996 },
  { id: 'npRight', series: np9798, xMax: days9798, yType: 'linear', yMin: 0, yMax: 2.5,
    area: [1922, 57, 3339, 765], ticks: npRightTicks, labels: npRightLabels,
    minor: linearMinor(npRightTicks, 0.1), kind: 'np',
    xTicks: dateTicks(dateLabelDays9798, monthDays9798, midMonthDays9798) },
  { id: 'tpRight', series: tp9798, xMax: days9798, yType: 'logarithmic', yMin: 5e3, yMax: 2.5e5,
    area: [1922, 765, 3339, 1473], ticks: tpRightTicks, labels: tpRightLabels,
    minor: tpRightMinor, kind: 'tp',
    xTicks: dateTicks(dateLabelDays9798, monthDays9798, midMonthDays9798),
    dateDays: dateLabelDays9798, dateText: dateLabels9798 }
];

// draws frame, inward ticks, tick labels and axis titles in the Tecplot look
function drawPieces(ctx, pieces, x0) {
  let x = x0;
  pieces.forEach(p => {
    ctx.font = p.font;
    ctx.fillText(p.t, x, p.dy || 0);
    x += ctx.measureText(p.t).width;
  });
}
function piecesWidth(ctx, pieces) {
  return pieces.reduce((w, p) => { ctx.font = p.font; return w + ctx.measureText(p.t).width; }, 0);
}

const tecplotAxes = {
  id: 'tecplotAxes',
  afterDraw(chart, args, opts) {
    const p = opts.panel;
    const ctx = chart.ctx;
    const { left, top, right, bottom } = chart.chartArea;
    const xs = chart.scales.x, ys = chart.scales.y;
    ctx.save();
    ctx.strokeStyle = '#000';
    ctx.fillStyle = '#000';

    // frame
    ctx.lineWidth = 2.6;
    ctx.strokeRect(left, top, right - left, bottom - top);

    // y ticks
    ctx.lineWidth = 2.4;
    const isLog = p.yType === 'logarithmic';
    p.ticks.forEach((v, i) => {
      const y = ys.getPixelForValue(v);
      const decade = isLog ? p.labels[i].indexOf('^') > 0 : true;
      const len = decade ? 36 : 17;
      ctx.beginPath(); ctx.moveTo(left, y); ctx.lineTo(left + len, y); ctx.stroke();
    });
    p.minor.forEach(v => {
      const y = ys.getPixelForValue(v);
      ctx.beginPath(); ctx.moveTo(left, y); ctx.lineTo(left + 17, y); ctx.stroke();
    });

    // x ticks (pointing up from the bottom edge)
    p.xTicks.forEach(t => {
      const x = xs.getPixelForValue(t.d);
      ctx.beginPath(); ctx.moveTo(x, bottom); ctx.lineTo(x, bottom - t.len); ctx.stroke();
    });

    // y tick labels
    ctx.textAlign = 'right';
    p.ticks.forEach((v, i) => {
      const y = ys.getPixelForValue(v);
      const lab = p.labels[i];
      if (!isLog) {
        ctx.font = '48px ' + SERIF;
        ctx.textBaseline = 'middle';
        ctx.fillText(lab, left - 19, y);
      } else if (lab.indexOf('^') > 0) {
        const [base, sup] = lab.split('^');
        ctx.font = '30px ' + SERIF;
        ctx.textBaseline = 'alphabetic';
        ctx.fillText(sup, left - 17, y - 1);
        const sw = ctx.measureText(sup).width;
        ctx.font = '46px ' + SERIF;
        ctx.textBaseline = 'middle';
        ctx.fillText(base, left - 18 - sw, y + 4);
      } else {
        ctx.font = '31px ' + SERIF;
        ctx.textBaseline = 'middle';
        ctx.fillText(lab, left - 9, y);
      }
    });

    // date labels and UT title
    if (p.dateDays) {
      ctx.textAlign = 'center';
      ctx.textBaseline = 'middle';
      ctx.font = '46px ' + SERIF;
      p.dateDays.forEach((d, i) => ctx.fillText(p.dateText[i], xs.getPixelForValue(d), bottom + 44));
      ctx.font = '64px ' + SERIF;
      ctx.fillText('UT', (left + right) / 2, bottom + 128);
    }

    // rotated axis title
    const big = 'bold 64px ' + SERIF, small = 'bold 42px ' + SERIF;
    const pieces = p.kind === 'np'
      ? [{ t: 'n', font: big }, { t: 'p', font: small, dy: 12 }, { t: ' (cm', font: big },
         { t: '-3', font: small, dy: -26 }, { t: ')', font: big }]
      : [{ t: 'T', font: big }, { t: 'p', font: small, dy: 12 }, { t: ' (K)', font: big }];
    const baseX = left - (p.kind === 'np' ? 134 : 158);
    const cy = (top + bottom) / 2;
    ctx.translate(baseX, cy);
    ctx.rotate(-Math.PI / 2);
    ctx.textAlign = 'left';
    ctx.textBaseline = 'alphabetic';
    drawPieces(ctx, pieces, -piecesWidth(ctx, pieces) / 2);

    ctx.restore();
  }
};

panels.forEach(p => {
  const [l, t, r, b] = p.area;
  new Chart(document.getElementById(p.id), {
    type: 'line',
    data: {
      datasets: [{
        data: p.series.map(([d, v]) => ({ x: d, y: v })),
        borderColor: '#000',
        borderWidth: 2,
        pointRadius: 0,
        tension: 0,
        fill: false
      }]
    },
    options: {
      responsive: false,
      animation: false,
      devicePixelRatio: 1,
      events: [],
      layout: { padding: { left: l, top: t, right: PAGE_W - r, bottom: PAGE_H - b } },
      scales: {
        x: { type: 'linear', min: 0, max: p.xMax, display: false },
        y: { type: p.yType, min: p.yMin, max: p.yMax, display: false }
      },
      plugins: {
        legend: { display: false },
        tooltip: { enabled: false },
        tecplotAxes: { panel: p }
      }
    },
    plugins: [tecplotAxes]
  });
});
</script>
</body>
</html>
